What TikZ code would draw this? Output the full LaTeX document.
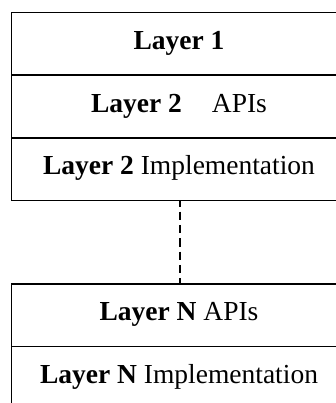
\documentclass[tikz,border=0pt]{standalone}
\usepackage{fontspec}
\setmainfont{Liberation Serif}
\begin{document}
\begin{tikzpicture}[x=1pt,y=1pt,
  layer/.style={draw, line width=1.3pt, outer sep=0pt, inner sep=0pt,
    minimum width=335pt, minimum height=62.7pt,
    text height=18.4pt, text depth=7.2pt,
    font=\fontsize{27.5}{33}\selectfont, anchor=north},
  sep/.style={line width=1.3pt, dash pattern=on 8.3pt off 5pt, dash phase=2.3pt}
]
\useasboundingbox (0,0) rectangle (336,-403);
\clip (0,0) rectangle (336,-403);
\node[layer] (l1) at (179,-12.5) {\textbf{Layer 1}};
\node[layer] (l2a) at (l1.south) {\textbf{Layer 2}\hspace{30pt}APIs};
\node[layer] (l2i) at (l2a.south) {\textbf{Layer 2} Implementation};
\node[layer] (lna) at (179,-284) {\textbf{Layer N} APIs};
\node[layer] (lni) at (lna.south) {\textbf{Layer N} Implementation};
\draw[line width=2.6pt] (l1.south west) -- (l1.south east);
\draw[sep] ([xshift=1pt]l2i.south) -- ([xshift=1pt]lna.north);
\end{tikzpicture}
\end{document}
